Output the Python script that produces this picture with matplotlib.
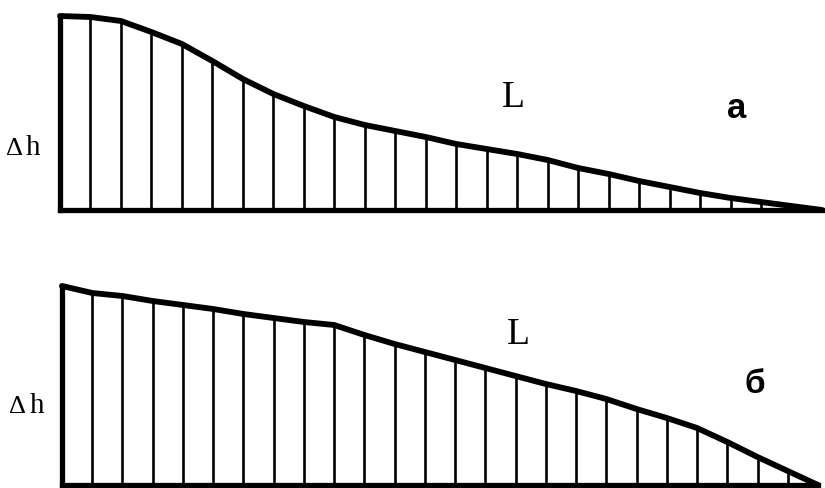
import matplotlib
matplotlib.use("Agg")
import matplotlib.pyplot as plt

# ---- data ----
positions = list(range(26))  # station index along L
heights_a = [194, 193, 189, 178, 166, 149, 131, 116, 104, 93, 85, 79, 73,
             66, 61, 56, 50, 42, 36, 29, 23, 17, 12, 8, 4, 0]
heights_b = [199, 192, 189, 184, 180, 176, 171, 167, 163, 160, 150, 141, 133,
             125, 117, 109, 101, 94, 86, 76, 67, 57, 43, 28, 14, 0]
label_y = "Δh"
label_x = "L"
panel_labels = ["а", "б"]

W, H = 825, 489
fig = plt.figure(figsize=(W / 100, H / 100), dpi=100)
fig.patch.set_facecolor("white")


def px_axes(x0, x1, y_base, span=200):
    # y_base: pixel row of baseline (from top); span: pixel height of axes
    return fig.add_axes([x0 / W, (H - y_base) / H, (x1 - x0) / W, span / H])


def draw_panel(ax, xs, hs):
    ax.set_xlim(xs[0], xs[-1])
    ax.set_ylim(0, 200)
    ax.axis("off")
    ax.vlines(xs[1:-1], 0, hs[1:-1], color="black", lw=1.9)
    ax.plot(xs, hs, color="black", lw=4.2, solid_capstyle="round",
            solid_joinstyle="round", clip_on=False)
    ax.plot([xs[0], xs[0]], [0, hs[0]], color="black", lw=3.8, clip_on=False,
            solid_capstyle="projecting")
    ax.plot([xs[0], xs[-1]], [0, 0], color="black", lw=3.8, clip_on=False,
            solid_capstyle="projecting")


ax1 = px_axes(60, 822, 211)
draw_panel(ax1, positions, heights_a)
ax2 = px_axes(62, 818, 486)
draw_panel(ax2, positions, heights_b)

serif = "Liberation Serif"
sans = "Liberation Sans"


def ftext(x, y, s, **kw):
    fig.text(x / W, (H - y) / H, s, va="baseline", **kw)


# top panel labels
ftext(6, 155, label_y[0], fontsize=19, family=serif)
ftext(26, 155, label_y[1], fontsize=21, family=serif)
ftext(502, 107, label_x, fontsize=27, family=serif)
ftext(727, 118, panel_labels[0], fontsize=25, family=sans, weight="bold")

# bottom panel labels
ftext(9, 413, label_y[0], fontsize=19, family=serif)
ftext(30, 413, label_y[1], fontsize=21, family=serif)
ftext(507, 344, label_x, fontsize=27, family=serif)
ftext(745, 393, panel_labels[1], fontsize=24, family=sans, weight="bold")

fig.savefig("out.png", dpi=100, facecolor="white")
